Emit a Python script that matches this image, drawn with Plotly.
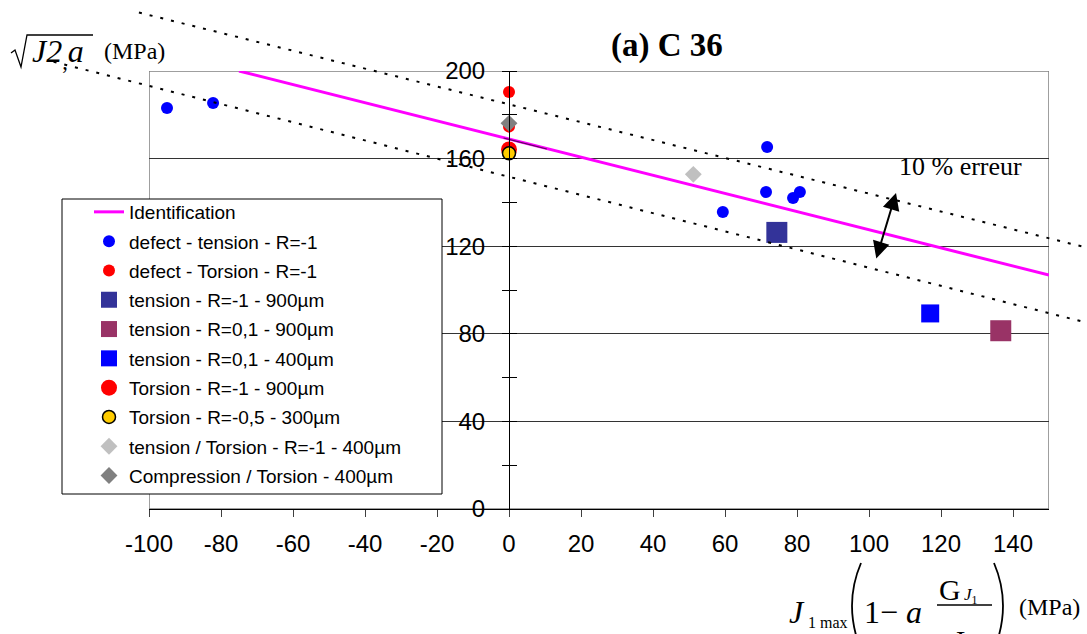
import plotly.graph_objects as go

W, H = 1087, 634

# ---------------- data ----------------
ident_x = [-75, 150]
ident_y = [200, 106.8]

err_up_x = [-102.8, 165]
err_up_y = [226.7, 117.5]
err_lo_x = [-126.5, 165]
err_lo_y = [204.2, 83.2]

seg_x = [-1.5, 10.5]
seg_y = [169.4, 164.4]

defect_tension_x = [-95, -82.2, 71.7, 71.4, 59.4, 78.9, 80.8]
defect_tension_y = [183.1, 185.4, 165.3, 144.7, 135.6, 142.0, 144.7]

defect_torsion_x = [0, 0]
defect_torsion_y = [190.4, 174.6]

t_r1_900_x = [74.4]
t_r1_900_y = [126.3]
t_r01_900_x = [136.6]
t_r01_900_y = [81.4]
t_r01_400_x = [117.0]
t_r01_400_y = [89.3]
tor_r1_900_x = [0]
tor_r1_900_y = [164.2]
tor_r05_300_x = [0]
tor_r05_300_y = [162.4]
tt_r1_400_x = [51.2]
tt_r1_400_y = [152.8]
ct_400_x = [0]
ct_400_y = [176.1]

x_range = [-100, 150]
y_range = [0, 200]
x_ticks = [-100, -80, -60, -40, -20, 0, 20, 40, 60, 80, 100, 120, 140]
x_tick_labels = ["-100", "-80", "-60", "-40", "-20", "0", "20", "40", "60", "80", "100", "120", "140"]
y_ticks = [0, 40, 80, 120, 160, 200]
y_tick_labels = ["0", "40", "80", "120", "160", "200"]

# ---------------- layout geometry ----------------
PL, PR, PT, PB = 149, 1049, 71, 509  # plot area in pixels
xdom = [PL / W, PR / W]
ydom = [1 - PB / H, 1 - PT / H]
sx = (x_range[1] - x_range[0]) / (PR - PL)
sy = (y_range[1] - y_range[0]) / (PB - PT)
x2_range = [x_range[0] - PL * sx, x_range[1] + (W - PR) * sx]
y2_range = [y_range[0] - (H - PB) * sy, y_range[1] + PT * sy]
yaxis_pos = xdom[0] + (0 - x_range[0]) / (x_range[1] - x_range[0]) * (xdom[1] - xdom[0])


def px(v):
    return v / W


def py(v):
    return 1 - v / H


SANS = "Liberation Sans, Arial, sans-serif"
SERIF = "Liberation Serif, Times New Roman, serif"

fig = go.Figure()

fig.add_trace(go.Scatter(x=ident_x, y=ident_y, mode="lines", name="Identification",
                         line=dict(color="#FF00FF", width=3), legendgroup="g0"))
fig.add_trace(go.Scatter(x=seg_x, y=seg_y, mode="lines", showlegend=False,
                         line=dict(color="#5a0a5a", width=1.2), hoverinfo="skip"))


def mk(xs, ys, name, symbol, color, size, g, line=None):
    fig.add_trace(go.Scatter(
        x=xs, y=ys, mode="markers", name=name, legendgroup=g,
        marker=dict(symbol=symbol, color=color, size=size,
                    line=line if line else dict(width=0))))


mk(defect_tension_x, defect_tension_y, "defect - tension - R=-1", "circle", "#0000FF", 12, "g1")
mk(defect_torsion_x, defect_torsion_y, "defect - Torsion - R=-1", "circle", "#FF0000", 12, "g2")
mk(t_r1_900_x, t_r1_900_y, "tension - R=-1 - 900µm", "square", "#333399", 21, "g3")
mk(t_r01_900_x, t_r01_900_y, "tension - R=0,1 - 900µm", "square", "#993366", 21, "g4")
mk(t_r01_400_x, t_r01_400_y, "tension - R=0,1 - 400µm", "square", "#0000FF", 18, "g5")
mk(tor_r1_900_x, tor_r1_900_y, "Torsion - R=-1 - 900µm", "circle", "#FF0000", 16, "g6")
mk(tor_r05_300_x, tor_r05_300_y, "Torsion - R=-0,5 - 300µm", "circle", "#FFCC00", 13, "g7",
   line=dict(color="black", width=1.5))
mk(tt_r1_400_x, tt_r1_400_y, "tension / Torsion - R=-1 - 400µm", "diamond", "#C0C0C0", 13, "g8")
mk(ct_400_x, ct_400_y, "Compression / Torsion - 400µm", "diamond", "#808080", 13, "g9")

# dummy trace to activate yaxis3
fig.add_trace(go.Scatter(x=[None], y=[None], yaxis="y3", showlegend=False, hoverinfo="skip"))

# error lines on a full-canvas subplot with the same scale (they extend beyond the frame)
for xs, ys in [(err_up_x, err_up_y), (err_lo_x, err_lo_y)]:
    fig.add_trace(go.Scatter(x=xs, y=ys, mode="lines", xaxis="x2", yaxis="y2",
                             line=dict(color="black", width=2, dash="3px,8px"),
                             showlegend=False, hoverinfo="skip"))

fig.update_layout(
    template="none",
    width=W, height=H, autosize=False,
    margin=dict(l=0, r=0, t=0, b=0, pad=0),
    paper_bgcolor="white", plot_bgcolor="rgba(0,0,0,0)",
    font=dict(family=SANS, color="black"),
    showlegend=True,
    legend=dict(x=px(89), y=py(193), xanchor="left", yanchor="top",
                bgcolor="rgba(0,0,0,0)", borderwidth=0,
                font=dict(family=SANS, size=19, color="black"),
                tracegroupgap=1.6, itemwidth=30),
    xaxis=dict(domain=xdom, range=x_range, tickvals=x_ticks, ticktext=x_tick_labels,
               showgrid=False, automargin=False,
               zeroline=False, showline=True, linecolor="black", linewidth=1,
               ticks="outside", ticklen=7, tickcolor="#404040",
               tickfont=dict(family=SANS, size=24, color="black"), anchor="y",
               ticklabelstandoff=6),
    yaxis=dict(domain=ydom, range=y_range, tickvals=y_ticks, ticktext=y_tick_labels,
               showgrid=True, automargin=False,
               gridcolor="#333333", gridwidth=1, zeroline=False,
               showline=True, linecolor="black", linewidth=1,
               anchor="free", position=yaxis_pos, side="left",
               ticks="outside", ticklen=7, tickcolor="black",
               minor=dict(dtick=20, tick0=0, ticks="outside", ticklen=7, tickcolor="black", showgrid=False),
               tickfont=dict(family=SANS, size=24, color="black"), ticklabelstandoff=12),
    yaxis3=dict(domain=ydom, range=y_range, overlaying="y", anchor="free", automargin=False,
                position=yaxis_pos, side="right", showgrid=False, zeroline=False,
                showline=False, showticklabels=False, tickvals=y_ticks,
                ticks="outside", ticklen=7, tickcolor="black",
                minor=dict(dtick=20, tick0=0, ticks="outside", ticklen=7, tickcolor="black", showgrid=False)),
    xaxis2=dict(domain=[0, 1], range=x2_range, visible=False, anchor="y2", automargin=False),
    yaxis2=dict(domain=[0, 1], range=y2_range, visible=False, anchor="x2", automargin=False),
)


def pp(points):
    return " ".join(("M" if i == 0 else "L") + f" {px(x):.5f},{py(y):.5f}" for i, (x, y) in enumerate(points))


shapes = [
    # plot frame
    dict(type="rect", xref="x", yref="y", x0=x_range[0], x1=x_range[1], y0=y_range[0], y1=y_range[1],
         line=dict(color="#808080", width=1.5), layer="below"),
    # legend box
    dict(type="rect", xref="paper", yref="paper", x0=px(62), x1=px(442), y0=py(199), y1=py(494),
         line=dict(color="black", width=1), fillcolor="white", layer="above"),
    # radical sign with overline
    dict(type="path", xref="paper", yref="paper",
         path=pp([(11, 53), (15, 50), (21, 67), (27, 35), (93, 35)]),
         line=dict(color="black", width=1.3)),
    # fraction bar
    dict(type="line", xref="paper", yref="paper", x0=px(937), x1=px(992), y0=py(605), y1=py(605),
         line=dict(color="black", width=1.4)),
    # big parentheses
    dict(type="path", xref="paper", yref="paper",
         path=f"M {px(861):.5f},{py(563):.5f} Q {px(843):.5f},{py(605):.5f} {px(861):.5f},{py(650):.5f}",
         line=dict(color="black", width=1.8)),
    dict(type="path", xref="paper", yref="paper",
         path=f"M {px(994):.5f},{py(563):.5f} Q {px(1012):.5f},{py(605):.5f} {px(994):.5f},{py(650):.5f}",
         line=dict(color="black", width=1.8)),
]
fig.update_layout(shapes=shapes)

ann = []


def txt(x, y, s, size, family=SERIF, xa="center"):
    ann.append(dict(x=px(x), y=py(y), xref="paper", yref="paper", text=s, showarrow=False,
                    font=dict(family=family, size=size, color="black"), xanchor=xa, yanchor="middle"))


txt(667, 45, "<b>(a) C 36</b>", 33)
txt(58, 53, "<i>J2</i><sub>,</sub><i>a</i>", 32)
txt(134, 51, "(MPa)", 24)
# bottom formula
txt(797, 612, "<i>J</i>", 32)
txt(828, 622, "1 max", 16)
txt(893, 612, "1− <i>a</i>", 32)
txt(950, 589, "G", 30)
txt(971, 596, "<i>J</i><sub>1</sub>", 17)
txt(957, 640, "<i>J</i>", 30)
txt(1049, 607, "(MPa)", 24)

ann.append(dict(x=125.3, y=156.6, xref="x", yref="y", text="10 % erreur", showarrow=False,
                font=dict(family=SERIF, size=26, color="black")))
ann.append(dict(x=107.5, y=144.3, ax=101.9, ay=113.7, xref="x", yref="y", axref="x", ayref="y",
                text="", showarrow=True, arrowhead=2, arrowside="end+start", arrowsize=1.7,
                arrowwidth=2, arrowcolor="black", standoff=0, startstandoff=0))
fig.update_layout(annotations=ann)

fig.write_html("out.html", config={"displayModeBar": False},
               post_script="document.body.style.margin='0';document.body.style.padding='0';")
